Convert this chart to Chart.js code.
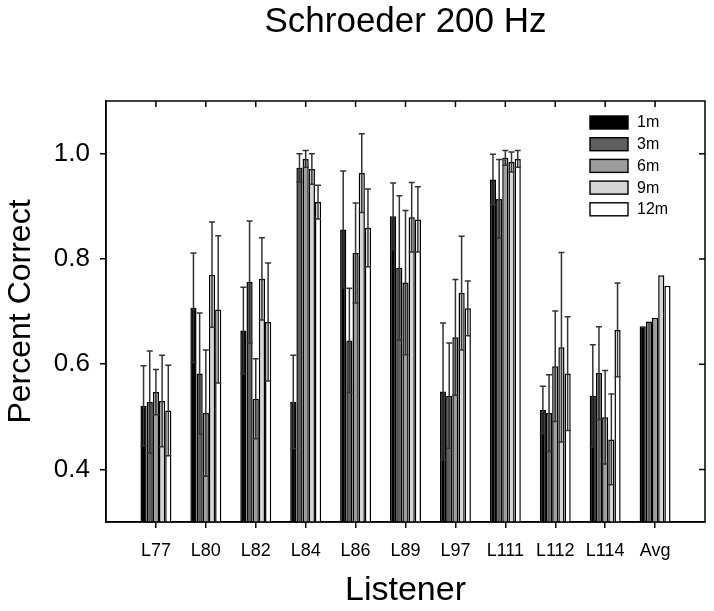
<!DOCTYPE html>
<html>
<head>
<meta charset="utf-8">
<title>Schroeder 200 Hz</title>
<script src="https://cdn.jsdelivr.net/npm/chart.js@4"></script>
<style>
  html, body { margin: 0; padding: 0; background: #fff; }
  canvas { display: block; }
</style>
</head>
<body>
<canvas id="chart" width="714" height="611"></canvas>
<script>
// listeners on the x axis, the last group is the average
const listeners = ['L77', 'L80', 'L82', 'L84', 'L86', 'L89', 'L97', 'L111', 'L112', 'L114', 'Avg'];
const distances = ['1m', '3m', '6m', '9m', '12m'];
const yTicks = [0.4, 0.6, 0.8, 1.0];

// percent correct per distance
const pc1m  = [0.521, 0.707, 0.664, 0.528, 0.856, 0.881, 0.548, 0.951, 0.513, 0.540, 0.672];
const pc3m  = [0.528, 0.582, 0.756, 0.973, 0.645, 0.783, 0.540, 0.914, 0.507, 0.583, 0.681];
const pc6m  = [0.547, 0.507, 0.534, 0.990, 0.811, 0.755, 0.651, 0.992, 0.596, 0.499, 0.688];
const pc9m  = [0.530, 0.770, 0.762, 0.971, 0.963, 0.879, 0.735, 0.984, 0.632, 0.457, 0.769];
const pc12m = [0.512, 0.704, 0.680, 0.908, 0.859, 0.875, 0.706, 0.990, 0.582, 0.665, 0.749];

// error bar half lengths (no error bars on the average)
const err1m  = [0.076, 0.104, 0.082, 0.089, 0.111, 0.063, 0.130, 0.048, 0.045, 0.097, null];
const err3m  = [0.097, 0.115, 0.116, 0.027, 0.099, 0.137, 0.100, 0.075, 0.073, 0.088, null];
const err6m  = [0.043, 0.120, 0.076, 0.016, 0.095, 0.137, 0.110, 0.014, 0.105, 0.089, null];
const err9m  = [0.087, 0.100, 0.078, 0.029, 0.075, 0.066, 0.108, 0.019, 0.180, 0.086, null];
const err12m = [0.086, 0.140, 0.112, 0.032, 0.074, 0.062, 0.052, 0.016, 0.108, 0.089, null];

const values = [pc1m, pc3m, pc6m, pc9m, pc12m];
const errors = [err1m, err3m, err6m, err9m, err12m];
const fills = ['#000000', '#5f5f5f', '#9d9d9d', '#d6d6d6', '#ffffff'];

const FONT = "'Liberation Sans', Arial, Helvetica, sans-serif";

// error bars: a vertical line through each bar with caps on both ends
const errorBars = {
  id: 'errorBars',
  afterDatasetsDraw(chart) {
    const ctx = chart.ctx;
    const y = chart.scales.y;
    ctx.save();
    ctx.strokeStyle = '#333';
    ctx.lineWidth = 1.5;
    chart.data.datasets.forEach((ds, d) => {
      const meta = chart.getDatasetMeta(d);
      meta.data.forEach((bar, i) => {
        const e = errors[d][i];
        if (e == null) return;
        const v = values[d][i];
        const top = y.getPixelForValue(v + e);
        const bot = y.getPixelForValue(v - e);
        const half = 3;
        ctx.beginPath();
        ctx.moveTo(bar.x, top);
        ctx.lineTo(bar.x, bot);
        ctx.moveTo(bar.x - half, top);
        ctx.lineTo(bar.x + half, top);
        ctx.moveTo(bar.x - half, bot);
        ctx.lineTo(bar.x + half, bot);
        ctx.stroke();
      });
    });
    ctx.restore();
  }
};

// closed frame with inward ticks on the top and right sides
const frame = {
  id: 'frame',
  afterDraw(chart) {
    const { ctx, chartArea: a, scales } = chart;
    ctx.save();
    ctx.strokeStyle = '#000';
    ctx.lineWidth = 1.5;
    ctx.strokeRect(a.left, a.top, a.right - a.left, a.bottom - a.top);
    ctx.beginPath();
    scales.x.ticks.forEach(t => {
      const px = scales.x.getPixelForValue(t.value);
      ctx.moveTo(px, a.top);
      ctx.lineTo(px, a.top + 6);
    });
    scales.y.ticks.forEach(t => {
      const py = scales.y.getPixelForValue(t.value);
      ctx.moveTo(a.right, py);
      ctx.lineTo(a.right - 6, py);
    });
    ctx.stroke();
    ctx.restore();
  }
};

// legend boxes inside the plot, top right
const boxLegend = {
  id: 'boxLegend',
  afterDraw(chart) {
    const { ctx, chartArea: a } = chart;
    const x0 = a.right - 115;
    const y0 = a.top + 15;
    ctx.save();
    ctx.font = '16px ' + FONT;
    ctx.textBaseline = 'middle';
    chart.data.datasets.forEach((ds, d) => {
      const yy = y0 + d * 21.7;
      ctx.fillStyle = ds.backgroundColor;
      ctx.fillRect(x0, yy, 38, 13);
      ctx.strokeStyle = '#000';
      ctx.lineWidth = 1.4;
      ctx.strokeRect(x0, yy, 38, 13);
      ctx.fillStyle = '#000';
      ctx.fillText(ds.label, x0 + 47, yy + 7);
    });
    ctx.restore();
  }
};

const datasets = distances.map((name, d) => ({
  label: name,
  data: values[d].map((v, i) => ({ x: i + 1, y: v })),
  backgroundColor: fills[d],
  borderColor: '#000',
  borderWidth: 1.5,
  barPercentage: 1.0,
  categoryPercentage: 0.62
}));

new Chart(document.getElementById('chart'), {
  type: 'bar',
  data: { datasets },
  options: {
    responsive: false,
    animation: false,
    layout: { padding: { top: 0, right: 9, left: 0, bottom: 0 } },
    plugins: {
      legend: { display: false },
      tooltip: { enabled: false },
      title: {
        display: true,
        text: 'Schroeder 200 Hz',
        fullSize: false,
        color: '#000',
        font: { family: FONT, size: 35, weight: 'normal' },
        padding: { top: 1, bottom: 58 }
      }
    },
    scales: {
      x: {
        type: 'linear',
        min: 0,
        max: 12,
        offset: false,
        afterBuildTicks: (scale) => {
          scale.ticks = listeners.map((_, i) => ({ value: i + 1 }));
        },
        afterFit: (scale) => { scale.height = 89; },
        ticks: {
          autoSkip: false,
          maxRotation: 0,
          padding: 12,
          color: '#000',
          font: { family: FONT, size: 18 },
          callback: (v) => listeners[v - 1]
        },
        grid: { display: true, offset: false, drawOnChartArea: false, drawTicks: true, tickLength: 6, color: '#000', lineWidth: 1.5 },
        border: { display: true, color: '#000', width: 1.5 },
        title: {
          display: true,
          text: 'Listener',
          color: '#000',
          font: { family: FONT, size: 34 },
          padding: { top: 0, bottom: 0 }
        }
      },
      y: {
        min: 0.3,
        max: 1.1,
        afterBuildTicks: (scale) => {
          scale.ticks = yTicks.map(v => ({ value: v }));
        },
        afterFit: (scale) => { scale.width = 106; },
        ticks: {
          padding: 10,
          color: '#000',
          font: { family: FONT, size: 26 },
          callback: (v) => v.toFixed(1)
        },
        grid: { display: true, drawOnChartArea: false, drawTicks: true, tickLength: 6, color: '#000', lineWidth: 1.5 },
        border: { display: true, color: '#000', width: 1.5 },
        title: {
          display: true,
          text: 'Percent Correct',
          color: '#000',
          font: { family: FONT, size: 32 },
          padding: { top: 2, bottom: 0 }
        }
      }
    }
  },
  plugins: [errorBars, frame, boxLegend]
});
</script>
</body>
</html>
